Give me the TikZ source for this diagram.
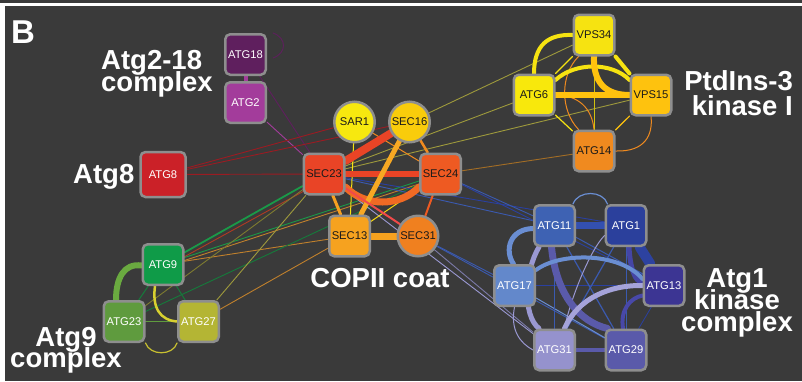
\documentclass[tikz,border=0pt]{standalone}
\usepackage{fontspec}
\setmainfont{Liberation Sans}
\usetikzlibrary{calc}
\newcommand\mytightls{\lineskiplimit=-100pt\relax}
\definecolor{bgc}{HTML}{3A3A3A}
\definecolor{bord}{HTML}{8E8E8E}
\definecolor{cATGa}{HTML}{5F1F5E}% ATG18
\definecolor{cATGb}{HTML}{A33C9B}% ATG2
\definecolor{cATGc}{HTML}{CB2128}% ATG8
\definecolor{cSAR}{HTML}{F7E80F}
\definecolor{cSECp}{HTML}{F9CC0B}% SEC16
\definecolor{cSECq}{HTML}{E94426}% SEC23
\definecolor{cSECr}{HTML}{EE5A22}% SEC24
\definecolor{cSECs}{HTML}{F6A21F}% SEC13
\definecolor{cSECt}{HTML}{F0801F}% SEC31
\definecolor{cVPSa}{HTML}{F6E311}% VPS34
\definecolor{cATGd}{HTML}{F8E80C}% ATG6
\definecolor{cVPSb}{HTML}{FEC20E}% VPS15
\definecolor{cATGe}{HTML}{F08A1F}% ATG14
\definecolor{cATGf}{HTML}{3E62B3}% ATG11
\definecolor{cATGg}{HTML}{2B409C}% ATG1
\definecolor{cATGh}{HTML}{6388CB}% ATG17
\definecolor{cATGi}{HTML}{3C3593}% ATG13
\definecolor{cATGj}{HTML}{9592CD}% ATG31
\definecolor{cATGk}{HTML}{5A5AAA}% ATG29
\definecolor{cATGl}{HTML}{0F9B48}% ATG9
\definecolor{cATGm}{HTML}{5F9B3E}% ATG23
\definecolor{cATGn}{HTML}{B4B534}% ATG27
\definecolor{eRed}{HTML}{9B1B22}
\definecolor{eGreen}{HTML}{1A9A48}
\definecolor{eRust}{HTML}{B03A22}
\definecolor{eBrown}{HTML}{C0802C}
\definecolor{eOlive}{HTML}{9E9A3C}
\definecolor{eBlue}{HTML}{3A5AB0}
\definecolor{eDBlue}{HTML}{2A40A0}
\definecolor{eLav}{HTML}{9A98D2}
\definecolor{eLBlue}{HTML}{6A8ED2}
\definecolor{eYel}{HTML}{F6E311}
\definecolor{eGold}{HTML}{FFC20E}
\definecolor{eOr}{HTML}{F08A1F}
\definecolor{eDark}{HTML}{1A1A1A}
\definecolor{eArc}{HTML}{F06A24}
\definecolor{eSxa}{HTML}{F7A823}
\definecolor{eSxb}{HTML}{F7A020}
\definecolor{eSxc}{HTML}{F04A4A}
\definecolor{eKa}{HTML}{3350B0}
\definecolor{eKb}{HTML}{2D42A0}
\definecolor{eKc}{HTML}{4545A5}
\definecolor{eKd}{HTML}{A5A3DA}
\definecolor{eKe}{HTML}{4848A8}
\definecolor{eNa}{HTML}{C8C030}
\definecolor{eNb}{HTML}{D8D030}
\definecolor{eNc}{HTML}{6AAA40}
\pgfdeclarelayer{back}
\pgfdeclarelayer{edges}
\pgfsetlayers{back,edges,main}
\begin{document}
\begin{tikzpicture}[x=1pt,y=-1pt,
  box/.style={draw=bord, line width=2.5pt, rounded corners=5pt, minimum size=40.5pt, inner sep=0pt, font=\fontsize{11.2}{13}\selectfont},
  circ/.style={circle, draw=bord, line width=2.5pt, minimum size=40.5pt, inner sep=0pt, font=\fontsize{11.2}{13}\selectfont},
  lbl/.style={font={\fontsize{27.5}{#1}\selectfont\bfseries\mytightls}, text=white, inner sep=0pt},
  lbl/.default=22,
  ed/.style={line width=0.9pt},
  every path/.style={line cap=round}]
\useasboundingbox (0,0) rectangle (802,381);
\begin{pgfonlayer}{back}
\fill[white] (0,0) rectangle (802,381);
\fill[bgc] (0,0) rectangle (802,3.3);
\fill[bgc] (5,5.7) rectangle (802,381);
\end{pgfonlayer}

% ---------- nodes ----------
\node[box, fill=cATGa, text=white] (ATG18) at (245.5,54.5) {ATG18};
\node[box, fill=cATGb, text=white] (ATG2) at (245.5,102.5) {ATG2};
\node[box, fill=cATGc, text=white, minimum size=45pt] (ATG8) at (163,174.5) {ATG8};
\node[circ, fill=cSAR, text=eDark] (SAR1) at (354.5,122) {SAR1};
\node[circ, fill=cSECp, text=eDark] (SEC16) at (409.5,122) {SEC16};
\node[box, fill=cSECq, text=eDark] (SEC23) at (324,174) {SEC23};
\node[box, fill=cSECr, text=eDark] (SEC24) at (440.5,174) {SEC24};
\node[box, fill=cSECs, text=eDark] (SEC13) at (349.5,236) {SEC13};
\node[circ, fill=cSECt, text=eDark] (SEC31) at (418,236) {SEC31};
\node[box, fill=cVPSa, text=eDark] (VPS34) at (594,35) {VPS34};
\node[box, fill=cATGd, text=eDark] (ATG6) at (534,95) {ATG6};
\node[box, fill=cVPSb, text=eDark] (VPS15) at (651,95) {VPS15};
\node[box, fill=cATGe, text=eDark] (ATG14) at (594,151) {ATG14};
\node[box, fill=cATGf, text=white] (ATG11) at (554.5,225.5) {ATG11};
\node[box, fill=cATGg, text=white] (ATG1) at (626,225.5) {ATG1};
\node[box, fill=cATGh, text=white] (ATG17) at (514.5,285.5) {ATG17};
\node[box, fill=cATGi, text=white] (ATG13) at (664,285.5) {ATG13};
\node[box, fill=cATGj, text=white] (ATG31) at (554.5,350) {ATG31};
\node[box, fill=cATGk, text=white] (ATG29) at (626,350) {ATG29};
\node[box, fill=cATGl, text=white] (ATG9) at (163,264.5) {ATG9};
\node[box, fill=cATGm, text=white] (ATG23) at (124,321.5) {ATG23};
\node[box, fill=cATGn, text=white] (ATG27) at (198.5,321.5) {ATG27};

% ---------- labels ----------
\node[lbl, font=\fontsize{33}{33}\selectfont\bfseries, anchor=base west] (labB) at (11,43.3) {B};
\node[lbl=22.4, anchor=north west, align=left] (labA) at (101,49.6) {Atg2-18\\complex};
\node[lbl, anchor=base east] (labE) at (134.5,183.3) {Atg8};
\node[lbl=24.3, anchor=north east, align=right] (labP) at (793,70.7) {PtdIns-3\\kinase I};
\node[lbl=21.7, anchor=north, align=center] (labK) at (737,268.6) {Atg1\\kinase\\complex};
\node[lbl, anchor=base] (labC) at (380,287.3) {COPII coat};
\node[lbl=21.3, anchor=north, align=center] (labN) at (66,327) {Atg9\\complex};

\coordinate (lpA) at (273,33);
\coordinate (lpB) at (273,58);

% ---------- edges ----------
\begin{pgfonlayer}{edges}
% inter-cluster thin lines
\draw[ed, cATGa] (ATG18) -- (SEC23);
\draw[ed, cATGb] (ATG2) -- (SEC23);
\draw[ed, cATGa] (lpA) .. controls (287,38) and (287,53) .. (lpB);
\draw[line width=4pt, cATGb] (ATG18) -- (ATG2);
\draw[ed, eRed] (ATG8) -- (SAR1);
\draw[ed, eRed] (ATG8) -- (SEC16);
\draw[ed, eRed] (ATG8) -- (SEC23);
\draw[line width=1.8pt, eGreen] (ATG9) -- (SEC23);
\draw[ed, eRust] ($(ATG9)+(0,4)$) -- ($(SEC23)+(0,6)$);
\draw[ed, eGreen] (ATG9) -- (SEC24);
\draw[ed, eBrown] ($(ATG9)+(0,3)$) -- ($(SEC24)+(0,3)$);
\draw[ed, eBrown] (ATG9) -- (SEC13);
\draw[ed, eGreen!80!black] (ATG23) -- (SEC24);
\draw[ed, eOlive!80!black] (ATG23) -- (SEC23);
\draw[ed, eOlive] (ATG27) -- (SEC23);
\draw[ed, eBrown] (ATG27) -- (SEC13);
\draw[ed, eOlive] (SEC16) -- (VPS34);
\draw[ed, eOlive] (SEC23) -- (ATG6);
\draw[ed, eOlive] (SEC23) -- (VPS15);
\draw[ed, eBrown!85!black] (SEC24) -- (ATG14);
\draw[ed, eBlue] (SEC23) -- (ATG11);
\draw[ed, eDBlue] (SEC23) -- (ATG1);
\draw[ed, eBlue] (SEC24) -- (ATG11);
\draw[ed, eDBlue] (SEC24) -- (ATG13);
\draw[ed, eLav] (SEC23) -- (ATG31);
\draw[ed, eBlue] (SEC31) -- (ATG17);
\draw[ed, eBlue] (SEC31) -- (ATG29);
\draw[ed, eLav!80!black] (SEC31) -- (ATG31);
% COPII coat
\draw[line width=1pt, eYel] (SAR1) -- (SEC13);
\draw[line width=1pt, eOr] (SAR1) -- (SEC24);
\draw[line width=1pt, eYel!90!orange] (SEC24) -- (SEC13);
\draw[line width=8pt, cSECq] (SEC23) -- (SEC16);
\draw[line width=6pt, cSECq] (SEC23) -- (SEC24);
\draw[line width=7pt, eArc] ($(SEC23.east)+(0,13)$) .. controls (365,207) and (400,207) .. ($(SEC24.west)+(0,13)$);
\draw[line width=5pt, eSxa] (SEC16) -- (SEC13);
\draw[line width=7pt, cSECs] (SEC13) -- (SEC31);
\draw[line width=2.5pt, eOr] (SEC16) -- (SEC24);
\draw[line width=3pt, eSxb] (SEC23) -- (SEC13);
\draw[line width=2pt, eSxc] (SEC23) -- (SEC31);
\draw[line width=2pt, cSECr] (SEC24) -- (SEC31);
% PtdIns-3 kinase I
\draw[line width=1pt, eOr] ($(ATG14.north west)+(6,0)$) .. controls (560,110) and (560,75) .. ($(VPS34.south west)+(6,0)$);
\draw[line width=1pt, eOr] (ATG6.east) .. controls (578,95) and (592,108) .. (ATG14.north);
\draw[line width=1pt, eOr] (ATG14.east) .. controls (645,152) and (653,135) .. (VPS15.south);
\draw[line width=1.2pt, eYel] (ATG6) -- (VPS34);
\draw[line width=1pt, eYel!85!black] (VPS34) -- (ATG14);
\draw[line width=1.2pt, eYel] (ATG6) -- (ATG14);
\draw[line width=1.2pt, eGold] (VPS15) -- (ATG14);
\draw[line width=4pt, eYel] (ATG6.north) .. controls (534,45) and (548,34) .. (VPS34.west);
\draw[line width=4pt, eYel] (VPS34.south east) -- (VPS15.north west);
\draw[line width=4pt, eYel] ($(ATG6.east)+(0,-15)$) .. controls (575,62) and (612,62) .. ($(VPS15.west)+(0,-15)$);
\draw[line width=6pt, eGold] (ATG6) -- (VPS15);
\draw[line width=6pt, eGold] (VPS34.south) .. controls (593,82) and (605,95) .. (VPS15.west);
% Atg1 kinase complex
\draw[line width=1.2pt, eLBlue] ($(ATG11.north east)+(-3,0)$) .. controls (578,190) and (603,190) .. ($(ATG1.north west)+(3,0)$);
\draw[line width=1pt, eLav] (ATG17.south) .. controls (510,330) and (520,343) .. (ATG31.west);
\draw[line width=0.8pt, eDBlue] (ATG17) -- (ATG13);
\draw[line width=1pt, eBlue] (ATG11) -- (ATG13);
\draw[line width=1.2pt, eBlue] (ATG11) -- (ATG29);
\draw[line width=1.2pt, eBlue] (ATG1) -- (ATG31);
\draw[line width=1pt, eBlue] (ATG1) -- (ATG29);
\draw[line width=1pt, eLBlue] (ATG17) -- (ATG29);
\draw[line width=0.8pt, eBlue] (ATG11) -- (ATG31);
\draw[line width=0.8pt, eDBlue] (ATG13) -- (ATG29);
\draw[line width=1pt, eLav] ($(ATG1.west)+(0,10)$) .. controls (590,250) and (570,300) .. ($(ATG31.north)+(10,0)$);
\draw[line width=6.5pt, eKa] (ATG11) -- (ATG1);
\draw[line width=10pt, eKb] (ATG1) -- (ATG13);
\draw[line width=5pt, eKc] ($(ATG1.south)+(3,0)$) .. controls (630,268) and (635,282) .. ($(ATG13.west)+(0,-3)$);
\draw[line width=5pt, eLBlue] ($(ATG11.west)+(0,3)$) .. controls (510,229) and (504,250) .. ($(ATG17.north)+(-1,0)$);
\draw[line width=5pt, eLav] ($(ATG11.south west)+(6,0)$) .. controls (525,270) and (522,315) .. ($(ATG31.north west)+(6,0)$);
\draw[line width=7pt, cATGk] ($(ATG11.south)+(-3,0)$) .. controls (556,295) and (580,322) .. ($(ATG29.north west)+(3,0)$);
\draw[line width=4pt, eLBlue] ($(ATG17.north east)+(0,6)$) .. controls (560,252) and (620,252) .. ($(ATG13.north west)+(0,15)$);
\draw[line width=5pt, eKd] ($(ATG31.north)+(10,0)$) .. controls (578,298) and (610,285) .. (ATG13.west);
\draw[line width=4pt, eKe] ($(ATG29.north)+(-3,0)$) .. controls (620,310) and (630,298) .. ($(ATG13.west)+(0,10)$);
\draw[line width=4pt, cATGk] (ATG31) -- (ATG29);
% Atg9 complex
\draw[line width=1pt, eGreen!80!black] (ATG9) -- (ATG23);
\draw[line width=1pt, eGreen!80!black] (ATG9) -- (ATG27);
\draw[line width=1pt, cATGm] (ATG23) -- (ATG27);
\draw[line width=1.2pt, eNa] (ATG23.south east) .. controls (150,356) and (173,356) .. (ATG27.south west);
\draw[line width=2.5pt, eNb] ($(ATG9.south)+(-8,0)$) .. controls (152,308) and (160,320) .. (ATG27.west);
\draw[line width=6pt, eNc] ($(ATG9.west)+(0,1)$) .. controls (124,263) and (116,278) .. ($(ATG23.north)+(-8,0)$);
\end{pgfonlayer}
\end{tikzpicture}
\end{document}
